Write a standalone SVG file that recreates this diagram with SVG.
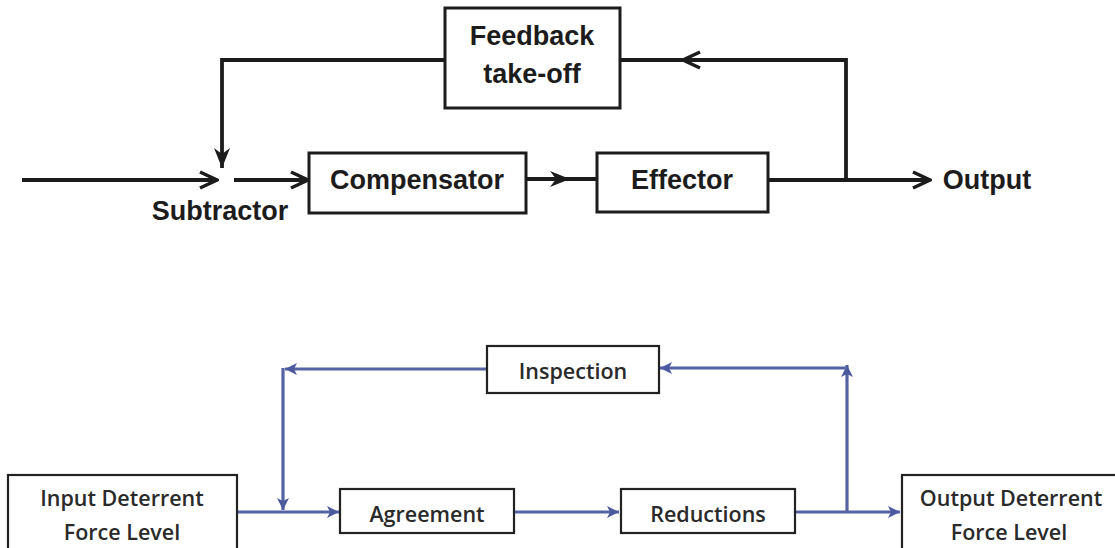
<svg xmlns="http://www.w3.org/2000/svg" width="1115" height="548" viewBox="0 0 1115 548">
<style>
.bk{fill:#fff;stroke:#1c1c1c;stroke-width:3}
.bb{fill:#fff;stroke:#222;stroke-width:2.2}
.tl{font-family:"Liberation Sans",Arial,sans-serif;font-weight:bold;font-size:27px;fill:#1c1c1c;text-anchor:middle;dominant-baseline:central}
.bl{font-family:"Open Sans","Lato",sans-serif;font-weight:600;font-size:21.5px;fill:#2a2a2a;text-anchor:middle;dominant-baseline:central}
.ck{fill:none;stroke:#1c1c1c;stroke-width:3.8}
.cb{fill:none;stroke:#5663a3;stroke-width:3.2}
</style>
<defs>
<marker id="chev" viewBox="0 0 24 24" refX="22" refY="12" markerWidth="24" markerHeight="24" markerUnits="userSpaceOnUse" orient="auto">
<path d="M5,4 L22,12 L5,20" fill="none" stroke="#1c1c1c" stroke-width="3.4"/>
</marker>
<marker id="tri" viewBox="0 0 24 24" refX="22" refY="12" markerWidth="24" markerHeight="24" markerUnits="userSpaceOnUse" orient="auto">
<path d="M2,4 L22,12 L2,20 L8,12 Z" fill="#1c1c1c"/>
</marker>
<marker id="bar" viewBox="0 0 14 14" refX="13" refY="7" markerWidth="14" markerHeight="14" markerUnits="userSpaceOnUse" orient="auto">
<path d="M1,1 L13,7 L1,13 L4,7 Z" fill="#4d5a9c"/>
</marker>
</defs>

<g id="connectors">
<path class="ck" d="M22,180 L217,180" marker-end="url(#chev)"/>
<path class="ck" d="M234,180 L308,180" marker-end="url(#chev)"/>
<path class="ck" d="M526,179 L597,179"/>
<path class="ck" d="M526,179 L570,179" marker-end="url(#tri)"/>
<path class="ck" d="M768,180 L930,180" marker-end="url(#chev)"/>
<path class="ck" d="M846,180 L846,60 L620,60"/>
<path class="ck" d="M846,60 L683,60" marker-end="url(#chev)"/>
<path class="ck" d="M445,60 L222,60 L222,168" marker-end="url(#tri)"/>

<path class="cb" d="M237,512 L339,512" marker-end="url(#bar)"/>
<path class="cb" d="M514,512 L619,512" marker-end="url(#bar)"/>
<path class="cb" d="M795,512 L900,512" marker-end="url(#bar)"/>
<path class="cb" d="M847,512 L847,365" marker-end="url(#bar)"/>
<path class="cb" d="M847,368 L660,368" marker-end="url(#bar)"/>
<path class="cb" d="M487,369 L285,369" marker-end="url(#bar)"/>
<path class="cb" d="M283,368 L283,510" marker-end="url(#bar)"/>
</g>

<g id="feedback">
<rect class="bk" x="445" y="8" width="175" height="100"/>
<text class="tl" x="532" y="36">Feedback</text>
<text class="tl" x="532" y="74">take-off</text>
</g>
<g id="subtractor">
<text class="tl" x="220" y="211">Subtractor</text>
</g>
<g id="compensator">
<rect class="bk" x="309" y="153" width="217" height="60"/>
<text class="tl" x="417" y="180">Compensator</text>
</g>
<g id="effector">
<rect class="bk" x="597" y="153" width="171" height="59"/>
<text class="tl" x="682" y="180">Effector</text>
</g>
<g id="output">
<text class="tl" x="987" y="180">Output</text>
</g>

<g id="inspection">
<rect class="bb" x="487" y="346" width="172" height="47"/>
<text class="bl" x="573" y="370">Inspection</text>
</g>
<g id="input">
<rect class="bb" x="8" y="475" width="229" height="90"/>
<text class="bl" x="122" y="497">Input Deterrent</text>
<text class="bl" x="122" y="531">Force Level</text>
</g>
<g id="agreement">
<rect class="bb" x="340" y="489" width="174" height="44"/>
<text class="bl" x="427" y="513">Agreement</text>
</g>
<g id="reductions">
<rect class="bb" x="621" y="489" width="174" height="44"/>
<text class="bl" x="708" y="513">Reductions</text>
</g>
<g id="outputlevel">
<rect class="bb" x="902" y="475" width="230" height="90"/>
<text class="bl" x="1011" y="497">Output Deterrent</text>
<text class="bl" x="1009" y="531">Force Level</text>
</g>
</svg>
